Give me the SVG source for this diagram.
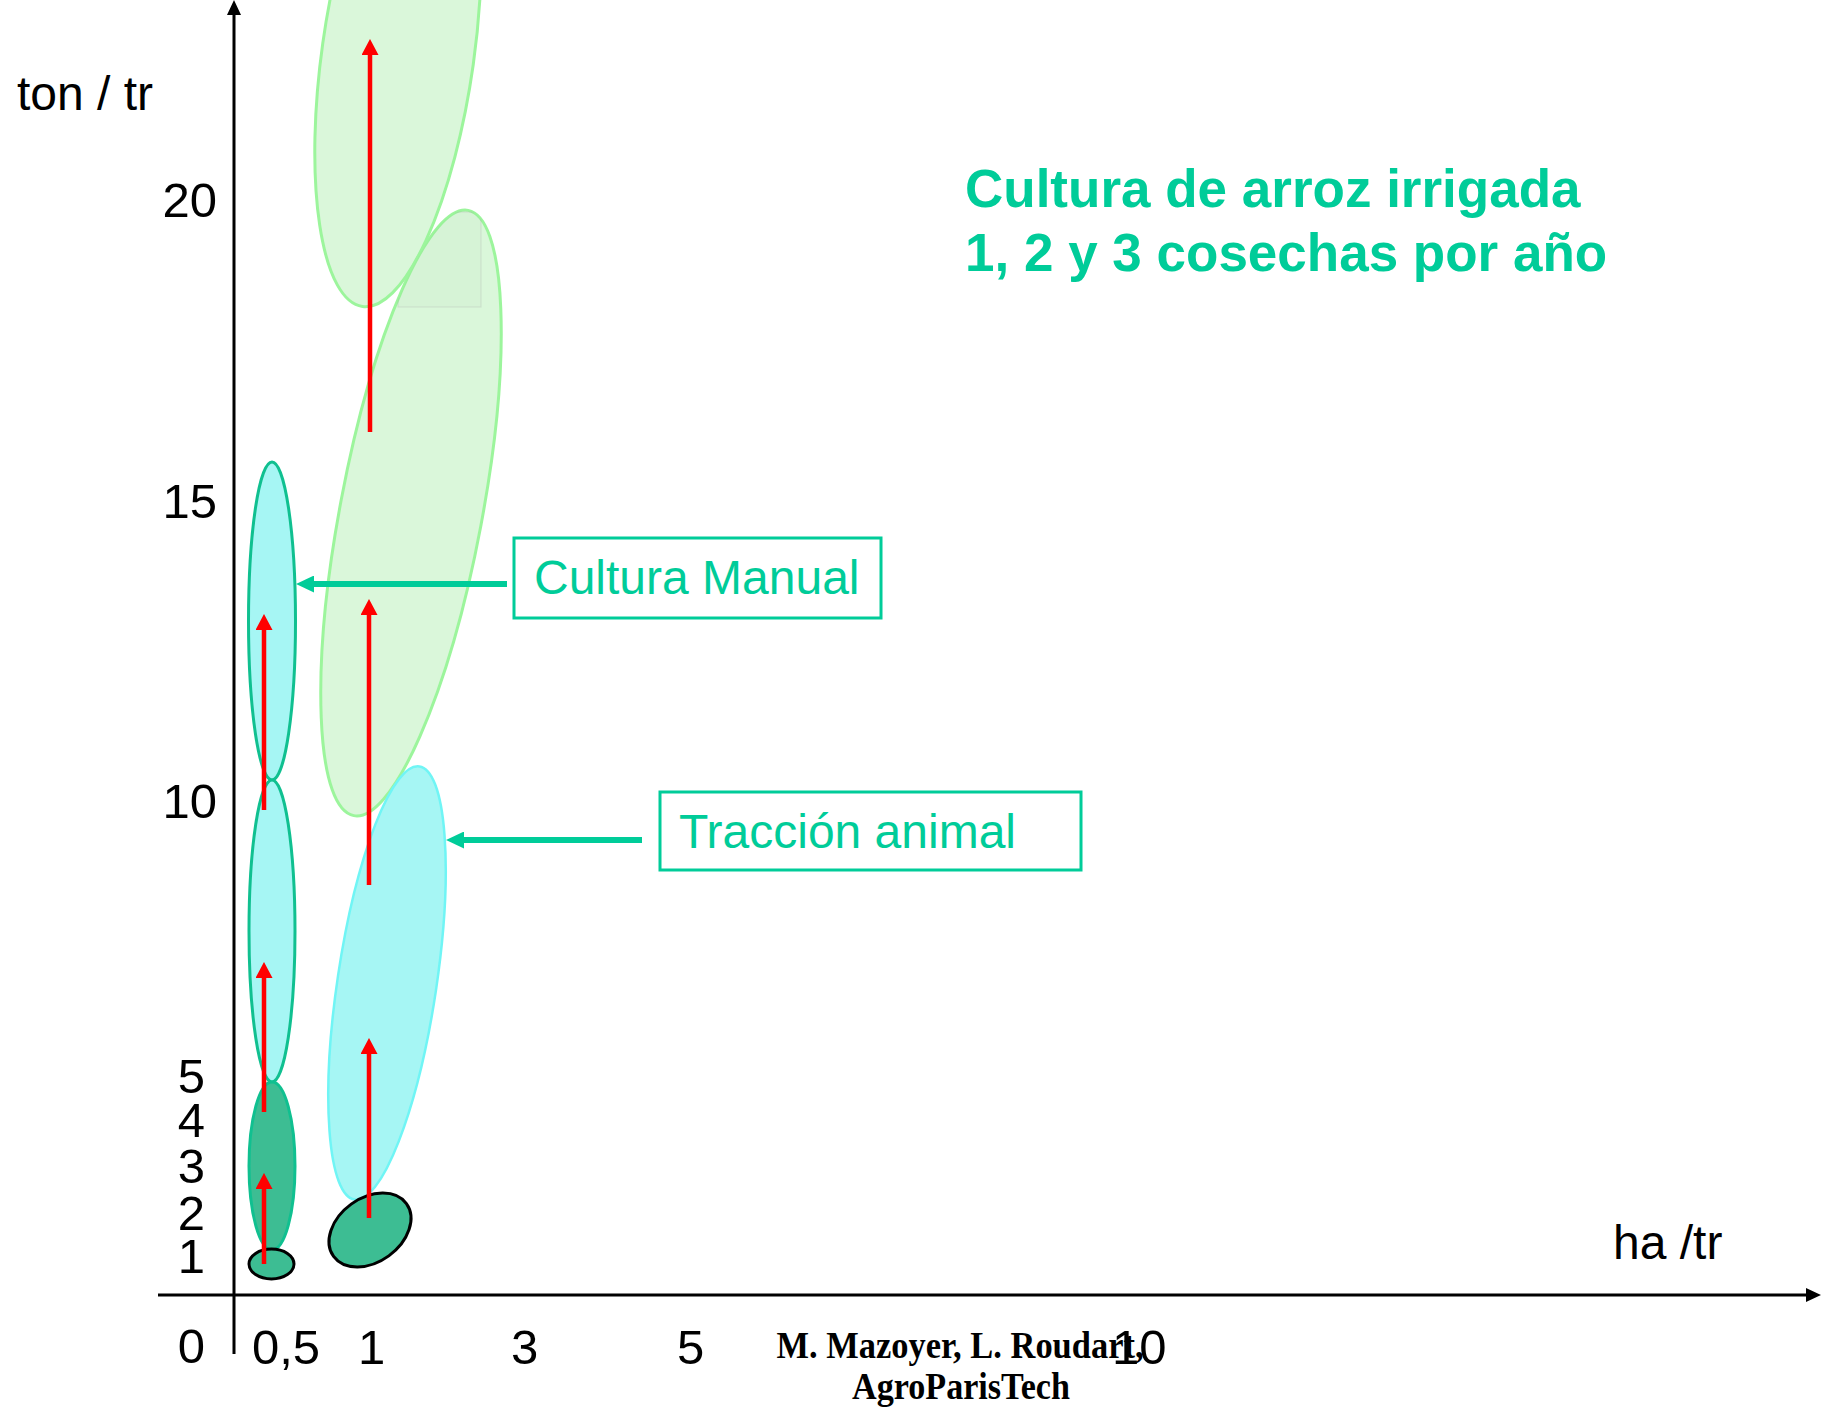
<svg xmlns="http://www.w3.org/2000/svg" width="1823" height="1410" viewBox="0 0 1823 1410">
<style>
.lbl{font-family:"Liberation Sans",Arial,sans-serif;font-size:49px;fill:#000}
.ax{font-family:"Liberation Sans",Arial,sans-serif;font-size:48px;fill:#000}
.title{font-family:"Liberation Sans",Arial,sans-serif;font-size:53px;font-weight:bold;fill:#00CC99}
.boxtxt{font-family:"Liberation Sans",Arial,sans-serif;font-size:48px;fill:#00CC99}
.box{fill:none;stroke:#00CC99;stroke-width:3}
.credit{font-family:"Liberation Serif","Times New Roman",serif;font-size:37px;font-weight:bold;fill:#000}
.dark{fill:#3DBD93}
.cyan{fill:#A6F6F4}
.green{fill:#DAF7DA;stroke:#9CF59C;stroke-width:3}
.tealstroke{stroke:#10C090;stroke-width:3}
.blackstroke{stroke:#000;stroke-width:3}
.red{stroke:#FF0000;stroke-width:4.5;fill:none;marker-end:url(#redhead)}
.gline{stroke:#00CC99;stroke-width:6;fill:none;marker-end:url(#greenhead)}
.axis{stroke:#000;stroke-width:3;fill:none;marker-end:url(#blackhead)}
</style>
<defs>
<marker id="redhead" markerUnits="userSpaceOnUse" markerWidth="16" markerHeight="17" viewBox="0 0 16 17" refX="0" refY="8.5" orient="auto"><path d="M0,0 L16,8.5 L0,17 Z" fill="#FF0000"/></marker>
<marker id="greenhead" markerUnits="userSpaceOnUse" markerWidth="18" markerHeight="17" viewBox="0 0 18 17" refX="0" refY="8.5" orient="auto"><path d="M0,0 L18,8.5 L0,17 Z" fill="#00CC99"/></marker>
<marker id="blackhead" markerUnits="userSpaceOnUse" markerWidth="15" markerHeight="14" viewBox="0 0 15 14" refX="0" refY="7" orient="auto"><path d="M0,0 L15,7 L0,14 Z" fill="#000"/></marker>
<clipPath id="lowclip"><ellipse cx="0" cy="0" rx="71" ry="308" transform="translate(411 513) rotate(10.7)"/></clipPath>
</defs>
<rect width="1823" height="1410" fill="#fff"/>

<g id="ellipse-green-upper"><ellipse class="green" cx="0" cy="0" rx="76" ry="255" transform="translate(398 54) rotate(8)"/></g>
<g id="ellipse-green-lower"><ellipse class="green" cx="0" cy="0" rx="71" ry="308" transform="translate(411 513) rotate(10.7)"/>
<rect x="398" y="212" width="83" height="95" fill="#000" fill-opacity="0.015" stroke="#aaa" stroke-opacity="0.3" stroke-width="1" clip-path="url(#lowclip)"/></g>
<g id="ellipse-cyan-right"><ellipse class="cyan" stroke="#70F5F5" stroke-width="2.5" cx="0" cy="0" rx="49.5" ry="219" transform="translate(387 983) rotate(8.5)"/></g>
<g id="ellipse-dark-right"><ellipse class="dark blackstroke" cx="0" cy="0" rx="45" ry="32" transform="translate(370 1230) rotate(-36)"/></g>
<g id="ellipse-cyan-top"><ellipse class="cyan tealstroke" cx="272" cy="621" rx="23.5" ry="159"/></g>
<g id="ellipse-cyan-mid"><ellipse class="cyan tealstroke" cx="272" cy="931" rx="23" ry="151"/></g>
<g id="ellipse-dark-left"><ellipse class="dark tealstroke" cx="272" cy="1166" rx="23" ry="84"/></g>
<g id="ellipse-small-left"><ellipse class="dark blackstroke" cx="271.5" cy="1264" rx="22.5" ry="15"/></g>

<g id="axes">
<line class="axis" x1="234" y1="1354" x2="234" y2="15"/>
<line class="axis" x1="158" y1="1295" x2="1806" y2="1295"/>
</g>
<g id="axis-labels">
<text class="ax" x="17" y="110">ton / tr</text>
<text class="ax" x="1613" y="1259">ha /tr</text>
</g>
<g id="y-ticks" text-anchor="end">
<text class="lbl" x="217" y="217">20</text>
<text class="lbl" x="217" y="518">15</text>
<text class="lbl" x="217" y="818">10</text>
<text class="lbl" x="205" y="1093">5</text>
<text class="lbl" x="205" y="1137">4</text>
<text class="lbl" x="205" y="1183">3</text>
<text class="lbl" x="205" y="1230">2</text>
<text class="lbl" x="205" y="1273">1</text>
<text class="lbl" x="205" y="1363">0</text>
</g>
<g id="credit">
<text class="credit" x="960" y="1358" text-anchor="middle" textLength="367" lengthAdjust="spacingAndGlyphs">M. Mazoyer, L. Roudart,</text>
<text class="credit" x="961" y="1399" text-anchor="middle" textLength="218" lengthAdjust="spacingAndGlyphs">AgroParisTech</text>
</g>
<g id="x-ticks">
<text class="lbl" x="252" y="1364">0,5</text>
<text class="lbl" x="358" y="1364">1</text>
<text class="lbl" x="511" y="1364">3</text>
<text class="lbl" x="677" y="1364">5</text>
<text class="lbl" x="1112" y="1364">10</text>
</g>
<g id="title">
<text class="title" x="965" y="207">Cultura de arroz irrigada</text>
<text class="title" x="965" y="271">1, 2 y 3 cosechas por año</text>
</g>
<g id="box-cultura-manual">
<rect class="box" x="514" y="538" width="367" height="80"/>
<text class="boxtxt" x="534" y="594">Cultura Manual</text>
</g>
<g id="box-traccion-animal">
<rect class="box" x="660" y="792" width="421" height="78"/>
<text class="boxtxt" x="679" y="848">Tracción animal</text>
</g>

<g id="connectors">
<line class="red" x1="264" y1="1264" x2="264" y2="1189"/>
<line class="red" x1="264" y1="1112" x2="264" y2="978"/>
<line class="red" x1="264" y1="810" x2="264" y2="630"/>
<line class="red" x1="369" y1="1218" x2="369" y2="1054"/>
<line class="red" x1="369" y1="885" x2="369" y2="615"/>
<line class="red" x1="370" y1="432" x2="370" y2="55"/>
<line class="gline" x1="507" y1="584" x2="314" y2="584"/>
<line class="gline" x1="642" y1="840" x2="464" y2="840"/>
</g>
</svg>
